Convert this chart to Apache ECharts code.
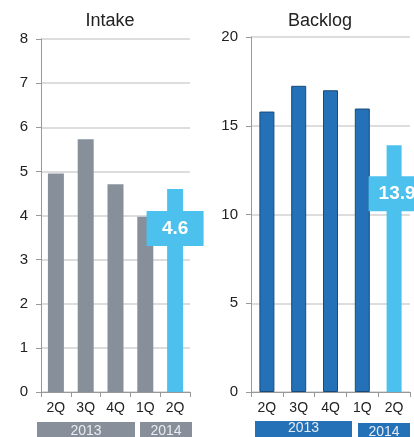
<!DOCTYPE html>
<html>
<head>
<meta charset="utf-8">
<script src="https://cdn.jsdelivr.net/npm/echarts@6/dist/echarts.min.js"></script>
<style>
  html, body { margin: 0; padding: 0; background: #fff; }
  #chart { width: 414px; height: 437px; }
</style>
</head>
<body>
<div id="chart"></div>
<script>
// Quarterly categories shared by both panels
const quarters = ['2Q', '3Q', '4Q', '1Q', '2Q'];
// Intake per quarter
const intake = [4.95, 5.73, 4.71, 3.97, 4.6];
// Backlog per quarter
const backlog = [15.8, 17.25, 17.0, 15.97, 13.9];
// Year groupings shown under the quarter labels
const years = ['2013', '2014'];
const titles = ['Intake', 'Backlog'];

const GRAY = '#87909A';
const NAVY = '#2571B8';
const CYAN = '#4DC1EE';
const AXIS = '#999999';
const GRID = '#D2D2D2';
const FONT = 'Liberation Sans, Arial, sans-serif';

function barData(values, baseStyle, labelDistance, labelOffset) {
  return values.map((v, i) => {
    if (i !== values.length - 1) return { value: v, itemStyle: baseStyle };
    return {
      value: v,
      itemStyle: { color: CYAN, borderWidth: 0 },
      label: {
        show: true,
        position: 'insideTop',
        distance: labelDistance,
        offset: labelOffset,
        formatter: '{c}',
        color: '#fff',
        fontFamily: FONT,
        fontWeight: 'bold',
        fontSize: 19,
        backgroundColor: CYAN,
        width: 57,
        height: 35,
        lineHeight: 35,
        align: 'center',
        padding: 0
      }
    };
  });
}

function yAxis(gridIndex, max, interval) {
  return {
    type: 'value', gridIndex, min: 0, max, interval,
    axisLine: { show: true, lineStyle: { color: AXIS, width: 1 } },
    axisTick: { show: true, length: 5, lineStyle: { color: AXIS } },
    axisLabel: { color: '#222', fontFamily: FONT, fontSize: 15, margin: 13 },
    splitLine: { show: true, lineStyle: { color: GRID, width: 1.5 } }
  };
}

function xAxis(gridIndex) {
  return {
    type: 'category', gridIndex, data: quarters,
    axisLine: { show: true, lineStyle: { color: AXIS, width: 1 } },
    axisTick: { show: true, length: 5, alignWithLabel: false, lineStyle: { color: AXIS } },
    axisLabel: { color: '#222', fontFamily: FONT, fontSize: 14, margin: 9, interval: 0 }
  };
}

// Year band under each panel: left, top, width, height, label, colour, text centre y
function band(x, y, w, h, text, color, ty) {
  return [
    { type: 'rect', left: x, top: y, shape: { width: w, height: h }, style: { fill: color } },
    { type: 'text', x: x + w / 2, y: ty,
      style: { text, fill: '#E8ECEF', font: '14px ' + FONT, textAlign: 'center', textVerticalAlign: 'middle' } }
  ];
}

const chart = echarts.init(document.getElementById('chart'));
chart.setOption({
  animation: false,
  title: [
    { text: titles[0], left: 110, top: 12, textAlign: 'center', padding: 0,
      textStyle: { fontFamily: FONT, fontSize: 18, fontWeight: 'normal', color: '#222' } },
    { text: titles[1], left: 320, top: 12, textAlign: 'center', padding: 0,
      textStyle: { fontFamily: FONT, fontSize: 18, fontWeight: 'normal', color: '#222' } }
  ],
  grid: [
    { left: 41, top: 39, width: 149, height: 353 },
    { left: 251, top: 37, width: 159, height: 355 }
  ],
  xAxis: [xAxis(0), xAxis(1)],
  yAxis: [yAxis(0, 8, 1), yAxis(1, 20, 5)],
  series: [
    { type: 'bar', xAxisIndex: 0, yAxisIndex: 0, barWidth: 16,
      data: barData(intake, { color: GRAY }, 22, [0, 0]) },
    { type: 'bar', xAxisIndex: 1, yAxisIndex: 1, barWidth: 15,
      data: barData(backlog, { color: NAVY, borderColor: '#184A7A', borderWidth: 1 }, 31, [3, 0]) }
  ],
  graphic: [
    ...band(37, 422, 98, 18, years[0], GRAY, 431),
    ...band(140, 422, 52, 18, years[1], GRAY, 431),
    ...band(255, 421, 97, 18, years[0], NAVY, 428),
    ...band(358, 423, 52, 18, years[1], NAVY, 432)
  ]
});
</script>
</body>
</html>
